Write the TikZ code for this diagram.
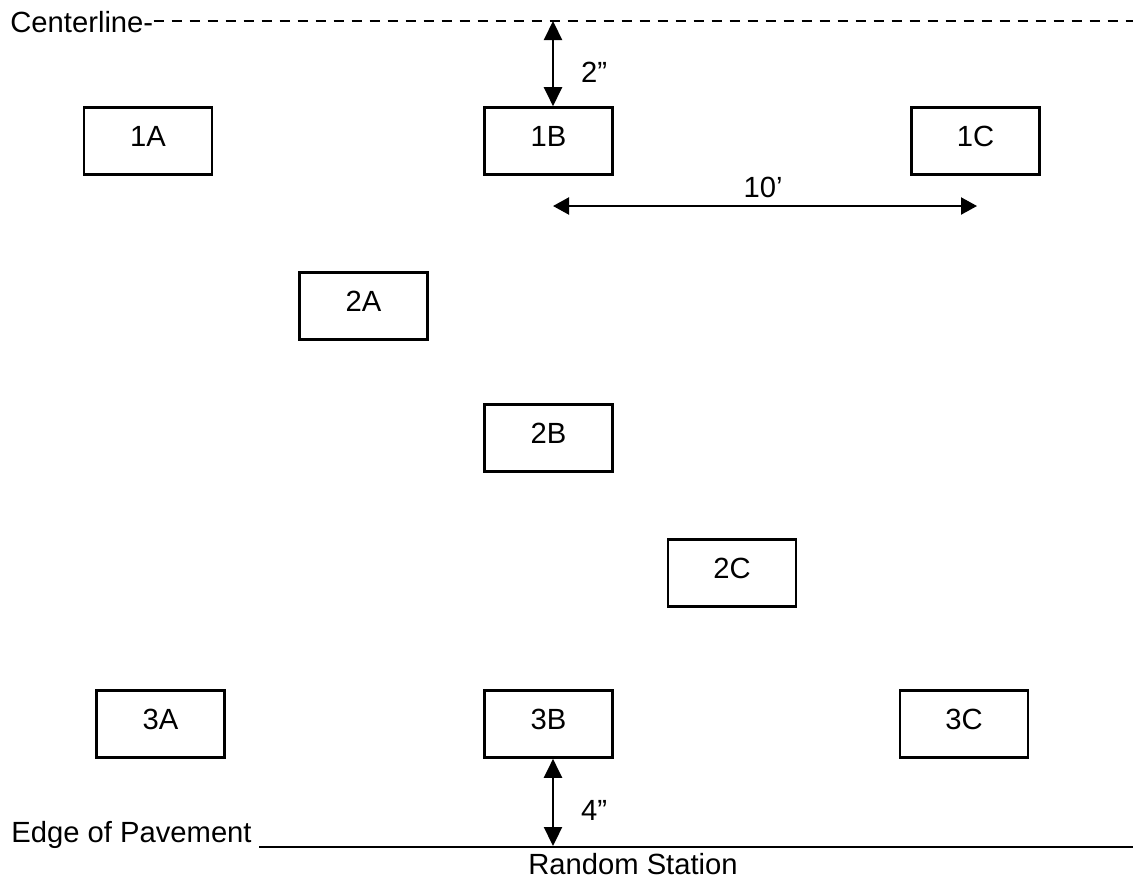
\documentclass[tikz,border=0pt]{standalone}
\usepackage{fontspec}
\setmainfont{Liberation Sans}
\usetikzlibrary{arrows.meta}
\begin{document}
\begin{tikzpicture}[x=0.5pt,y=-0.5pt,
  every node/.style={font=\fontsize{14.6pt}{17pt}\selectfont, inner sep=0pt},
  plot/.style={draw, line width=1.3pt, minimum width=64pt, minimum height=33.5pt, text height=5pt, text depth=0pt},
  dimv/.style={line width=1.1pt, {Triangle[length=9.5pt,width=9pt]}-{Triangle[length=9.5pt,width=9pt]}},
  dimh/.style={line width=1.1pt, {Triangle[length=8pt,width=8.5pt]}-{Triangle[length=8pt,width=8.5pt]}},
  cl/.style={line width=1.2pt, dash pattern=on 5pt off 4pt},
  edge/.style={line width=1.3pt}]
\useasboundingbox (0,0) rectangle (1133,880);
% plots
\node[plot] (p1A) at (148,141) {1A};
\node[plot] (p1B) at (548.5,141) {1B};
\node[plot] (p1C) at (975.5,141) {1C};
\node[plot] (p2A) at (363.5,306) {2A};
\node[plot] (p2B) at (548.5,438) {2B};
\node[plot] (p2C) at (732,573) {2C};
\node[plot] (p3A) at (160.5,724) {3A};
\node[plot] (p3B) at (548.5,724) {3B};
\node[plot] (p3C) at (964,724) {3C};
% centerline
\node[anchor=west] (cltext) at (10,22) {Centerline-};
\coordinate (clend) at (1133,21);
\draw[cl] (cltext.east |- clend) -- (clend);
% edge of pavement
\node[anchor=base west] (eptext) at (11,842) {Edge of Pavement};
\coordinate (epstart) at (259,847);
\coordinate (epend) at (1133,847);
\draw[edge] (epstart) -- (epend);
\node (rs) at (633,864) {Random Station};
% 2" dimension
\coordinate (d2top) at (553,21);
\draw[dimv] (d2top) -- (d2top |- p1B.north);
\node (l2) at (594,72) {2”};
% 10' dimension
\coordinate (d10a) at (553,206);
\coordinate (d10b) at (977,206);
\draw[dimh] (d10a) -- (d10b);
\node (l10) at (763,187) {10’};
% 4" dimension
\coordinate (d4) at (553,846);
\draw[dimv] (d4 |- p3B.south) -- (d4);
\node (l4) at (594,810) {4”};
\end{tikzpicture}
\end{document}
